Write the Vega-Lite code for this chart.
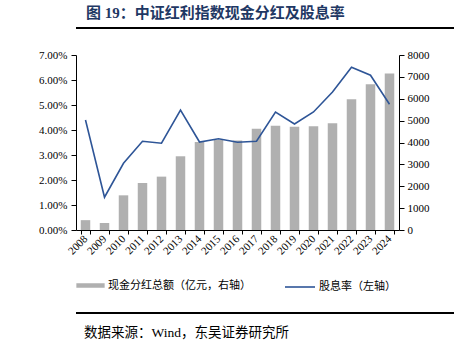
{
  "$schema": "https://vega.github.io/schema/vega-lite/v6.json",
  "background": "white",
  "padding": {"left": 19, "top": 6, "right": 2, "bottom": 0},
  "autosize": {"type": "pad"},
  "spacing": 20,
  "resolve": {"legend": {"fill": "independent", "stroke": "independent"}},
  "config": {
    "font": "Liberation Serif, Noto Sans CJK SC",
    "view": {"stroke": null}
  },
  "vconcat": [
    {
      "width": 431,
      "height": 2,
      "view": {"fill": "#000000", "stroke": null},
      "title": {
        "text": "图 19：中证红利指数现金分红及股息率",
        "anchor": "start",
        "font": "Liberation Serif, Noto Sans CJK SC",
        "fontSize": 15,
        "fontWeight": "bold",
        "color": "#1F3864",
        "offset": 6,
        "dx": 10
      },
      "data": {"values": []},
      "mark": {"type": "rule"},
      "encoding": {}
    },
    {
      "width": 323,
      "height": 175,
      "data": {
        "values": [
          {"year": "2008", "div": 450, "yld": 0.0440},
          {"year": "2009", "div": 320, "yld": 0.0131},
          {"year": "2010", "div": 1585, "yld": 0.0267},
          {"year": "2011", "div": 2150, "yld": 0.0355},
          {"year": "2012", "div": 2440, "yld": 0.0347},
          {"year": "2013", "div": 3370, "yld": 0.0480},
          {"year": "2014", "div": 4020, "yld": 0.0352},
          {"year": "2015", "div": 4110, "yld": 0.0365},
          {"year": "2016", "div": 4090, "yld": 0.0351},
          {"year": "2017", "div": 4630, "yld": 0.0355},
          {"year": "2018", "div": 4770, "yld": 0.0472},
          {"year": "2019", "div": 4725, "yld": 0.0424},
          {"year": "2020", "div": 4740, "yld": 0.0472},
          {"year": "2021", "div": 4875, "yld": 0.0552},
          {"year": "2022", "div": 5975, "yld": 0.0651},
          {"year": "2023", "div": 6660, "yld": 0.0619},
          {"year": "2024", "div": 7150, "yld": 0.0503}
        ]
      },
      "encoding": {
        "x": {
          "field": "year",
          "type": "ordinal",
          "scale": {"paddingInner": 0.5, "paddingOuter": 0.25},
          "axis": {
            "title": null,
            "labelAngle": -45,
            "labelAlign": "right",
            "labelBaseline": "middle",
            "labelFontSize": 11,
            "labelColor": "#000000",
            "labelPadding": 3,
            "labelOverlap": false,
            "domainColor": "#000000",
            "tickColor": "#000000",
            "tickSize": 4,
            "tickBand": "extent",
            "grid": false
          }
        }
      },
      "layer": [
        {
          "mark": {"type": "bar"},
          "encoding": {
            "y": {
              "field": "div",
              "type": "quantitative",
              "scale": {"domain": [0, 8000]},
              "axis": {
                "orient": "right",
                "title": null,
                "values": [0, 1000, 2000, 3000, 4000, 5000, 6000, 7000, 8000],
                "format": "d",
                "labelFontSize": 11,
                "labelColor": "#000000",
                "labelPadding": 3,
                "domainColor": "#000000",
                "tickColor": "#000000",
                "tickSize": 5,
                "grid": false
              }
            },
            "fill": {
              "datum": "现金分红总额（亿元，右轴）",
              "scale": {"range": ["#B0B0B0"]},
              "legend": {
                "orient": "bottom",
                "direction": "horizontal",
                "title": null,
                "offset": 14,
                "symbolType": "M-1,-0.16L1,-0.16L1,0.16L-1,0.16Z",
                "symbolSize": 800,
                "symbolStrokeWidth": 0,
                "labelFont": "Noto Sans CJK SC",
                "labelFontSize": 11,
                "labelColor": "#000000",
                "labelOffset": 3
              }
            }
          }
        },
        {
          "mark": {"type": "line", "strokeWidth": 1.6},
          "encoding": {
            "y": {
              "field": "yld",
              "type": "quantitative",
              "scale": {"domain": [0, 0.07]},
              "axis": {
                "orient": "left",
                "title": null,
                "values": [0, 0.01, 0.02, 0.03, 0.04, 0.05, 0.06, 0.07],
                "format": ".2%",
                "labelFontSize": 11,
                "labelColor": "#000000",
                "labelPadding": 4,
                "domainColor": "#000000",
                "tickColor": "#000000",
                "tickSize": 5,
                "minExtent": 57,
                "grid": false
              }
            },
            "stroke": {
              "datum": "股息率（左轴）",
              "scale": {"range": ["#2E5597"]},
              "legend": {
                "orient": "bottom",
                "direction": "horizontal",
                "title": null,
                "offset": 14,
                "symbolType": "stroke",
                "symbolSize": 900,
                "symbolStrokeWidth": 1.6,
                "symbolOffset": 25,
                "labelFont": "Noto Sans CJK SC",
                "labelFontSize": 11,
                "labelColor": "#000000",
                "labelOffset": 3
              }
            }
          }
        }
      ],
      "resolve": {"scale": {"y": "independent"}}
    },
    {
      "width": 431,
      "height": 2,
      "view": {"fill": "#000000", "stroke": null},
      "title": {
        "text": "数据来源：Wind，东吴证券研究所",
        "orient": "bottom",
        "anchor": "start",
        "font": "Liberation Serif, Noto Sans CJK SC",
        "fontSize": 13.5,
        "fontWeight": "normal",
        "color": "#000000",
        "offset": 12,
        "dx": 8
      },
      "data": {"values": []},
      "mark": {"type": "rule"},
      "encoding": {}
    }
  ]
}
